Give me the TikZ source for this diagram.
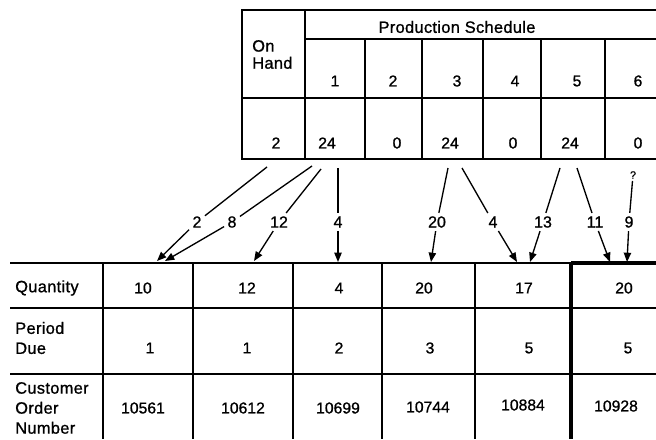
\documentclass[tikz,border=0pt]{standalone}
\usepackage{fontspec}
\setmainfont{Liberation Sans}[FakeBold=1]
\newfontfamily\wordfont{Liberation Sans}[LetterSpace=2,FakeBold=1]
\usetikzlibrary{arrows.meta}
\begin{document}
\begin{tikzpicture}[x=0.75pt,y=-0.75pt,
  grid/.style={line width=1pt},
  thickgrid/.style={line width=2.4pt},
  txt/.style={inner sep=0pt, font=\fontsize{11.8}{15}\selectfont},
  word/.style={inner sep=0pt, font=\wordfont\fontsize{12.3}{15}\selectfont},
  lbl/.style={inner sep=2.4pt, font=\fontsize{12}{15}\selectfont},
  conn/.style={line width=1pt},
  arr/.style={conn, -{Triangle[length=7pt,width=5.5pt]}}]
\useasboundingbox (0,0) rectangle (656,439);
% ---------- top table ----------
\draw[grid] (656,10) -- (242,10) -- (242,159) -- (656,159);
\draw[grid] (305,39) -- (656,39);
\draw[grid] (242,98) -- (656,98);
\draw[grid] (305,10) -- (305,159);
\foreach \x in {365,422,483,541,605} \draw[grid] (\x,39) -- (\x,159);
\node[word, align=left, anchor=west, font=\wordfont\fontsize{12.3}{12.8}\selectfont] (onhand) at (252,54.5) {On\\Hand};
\node[word] (ps) at (457,27) {Production Schedule};
\node[txt] (p1) at (335,81) {1};
\node[txt] (p2) at (393,81) {2};
\node[txt] (p3) at (457,81) {3};
\node[txt] (p4) at (515,81) {4};
\node[txt] (p5) at (577,81) {5};
\node[txt] (p6) at (638,81) {6};
\node[txt] (v0) at (276,143) {2};
\node[txt] (v1) at (327,143) {24};
\node[txt] (v2) at (397,143) {0};
\node[txt] (v3) at (450,143) {24};
\node[txt] (v4) at (513,143) {0};
\node[txt] (v5) at (570,143) {24};
\node[txt] (v6) at (638,143) {0};
% ---------- bottom table ----------
\draw[grid] (10,263) -- (571,263);
\draw[thickgrid] (571,263) -- (656,263);
\draw[grid] (10,308) -- (656,308);
\draw[grid] (10,374) -- (656,374);
\foreach \x in {103,193,293,382,475} \draw[grid] (\x,263) -- (\x,439);
\draw[thickgrid] (571,262) -- (571,439);
\node[word, anchor=west] (qty) at (15,288) {Quantity};
\node[word, align=left, anchor=west] (due) at (15,338) {Period\\Due};
\node[word, align=left, anchor=west] (con) at (15,408) {Customer\\Order\\Number};
\node[txt] (q1) at (143,288) {10};
\node[txt] (q2) at (247,288) {12};
\node[txt] (q3) at (339,288) {4};
\node[txt] (q4) at (424,288) {20};
\node[txt] (q5) at (524,288) {17};
\node[txt] (q6) at (624,288) {20};
\node[txt] (d1) at (150,348) {1};
\node[txt] (d2) at (247,348) {1};
\node[txt] (d3) at (339,348) {2};
\node[txt] (d4) at (430,348) {3};
\node[txt] (d5) at (529,348) {5};
\node[txt] (d6) at (628,348) {5};
\node[txt] (c1) at (143,408) {10561};
\node[txt] (c2) at (243,408) {10612};
\node[txt] (c3) at (338,408) {10699};
\node[txt] (c4) at (428,407) {10744};
\node[txt] (c5) at (523,405) {10884};
\node[txt] (c6) at (616,406) {10928};
% ---------- connectors ----------
\coordinate (sA) at (267,167);
\coordinate (sB) at (312,166);
\coordinate (sC) at (321,169);
\coordinate (sD) at (338,168);
\coordinate (sE) at (448,168);
\coordinate (sF) at (462,168);
\coordinate (sG) at (560,168);
\coordinate (sH) at (577,168);
\coordinate (tA) at (157,261);
\coordinate (tB) at (165,261);
\coordinate (tC) at (254,261);
\coordinate (tD) at (338,262);
\coordinate (tE) at (431,262);
\coordinate (tF) at (517,262);
\coordinate (tG) at (530,262);
\coordinate (tH) at (610,262);
\coordinate (tI) at (627,262);
\node[lbl] (lA) at (197,222) {2};
\node[lbl] (lB) at (232,222) {8};
\node[lbl] (lC) at (279,222) {12};
\node[lbl] (lD) at (338,222) {4};
\node[lbl] (lE) at (437,222) {20};
\node[lbl] (lF) at (493,222) {4};
\node[lbl] (lG) at (543,222) {13};
\node[lbl] (lH) at (595,222) {11};
\node[lbl] (lI) at (629,222) {9};
\node[lbl, inner sep=1.5pt, font=\fontsize{8}{10}\selectfont] (q) at (633,175) {?};
\draw[conn] (sA) -- (lA); \draw[arr] (lA) -- (tA);
\draw[conn] (sB) -- (lB); \draw[arr] (lB) -- (tB);
\draw[conn] (sC) -- (lC); \draw[arr] (lC) -- (tC);
\draw[conn] (sD) -- (lD); \draw[arr] (lD) -- (tD);
\draw[conn] (sE) -- (lE); \draw[arr] (lE) -- (tE);
\draw[conn] (sF) -- (lF); \draw[arr] (lF) -- (tF);
\draw[conn] (sG) -- (lG); \draw[arr] (lG) -- (tG);
\draw[conn] (sH) -- (lH); \draw[arr] (lH) -- (tH);
\draw[conn] (q) -- (lI); \draw[arr] (lI) -- (tI);
\end{tikzpicture}
\end{document}
